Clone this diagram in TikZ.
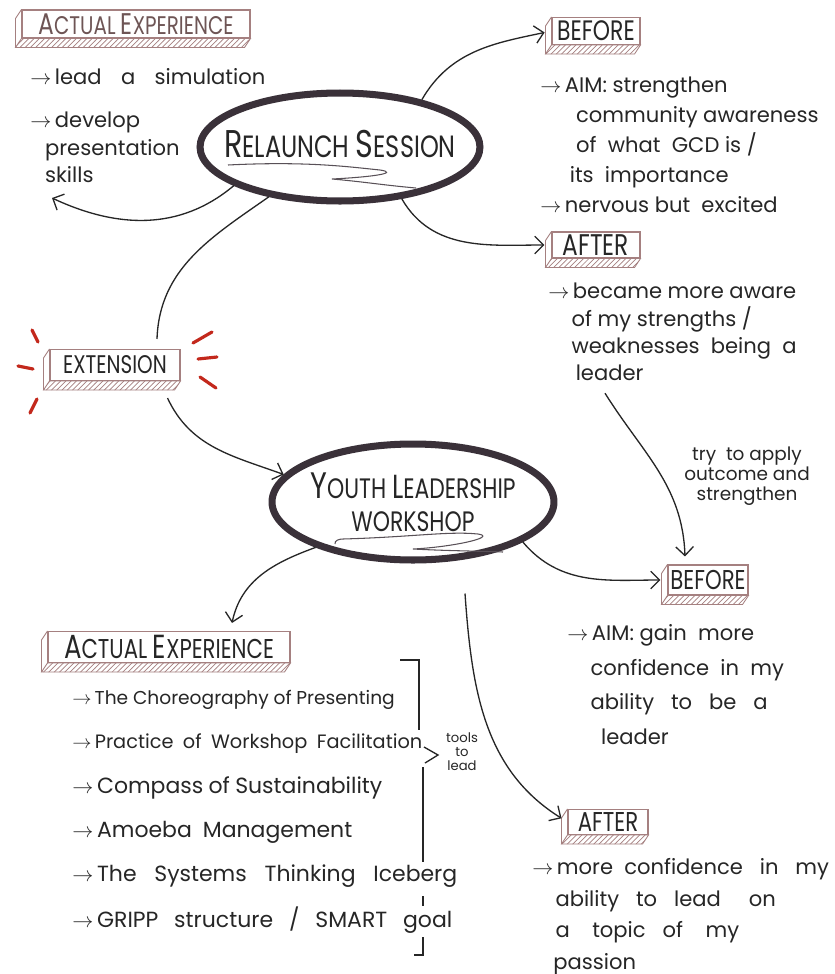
\documentclass[tikz,border=0pt]{standalone}
\usepackage{fontspec}
\setmainfont{Poppins}
\usetikzlibrary{shapes.geometric,arrows.meta,patterns,calc}

\definecolor{ink}{HTML}{262626}
\definecolor{fadeink}{HTML}{6E5555}
\definecolor{ringink}{HTML}{3A3139}
\definecolor{boxink}{HTML}{A58080}
\definecolor{burstred}{HTML}{C3281C}

\newcommand{\arr}{$\rightarrow$\,}
\newcommand{\capini}[2]{{\fontsize{#1}{#1}\selectfont #2}}
\newcommand{\narrow}[1]{\scalebox{0.78}[1]{#1}}

\begin{document}
\begin{tikzpicture}[
    x=0.02cm, y=-0.02cm,
    every node/.style={text=ink},
    note/.style={anchor=north west, align=left, inner sep=0pt,
                 font=\fontsize{12}{16.5}\selectfont},
    item/.style={anchor=west, inner sep=0pt},
    tagbox/.style={draw=boxink, line width=0.6pt, inner sep=0pt},
    ring/.style={ellipse, draw=ringink, line width=4pt, align=center,
                 inner xsep=-30pt, inner ysep=-10pt},
    link/.style={draw=ink, line width=0.75pt},
    arrowed/.style={-{Straight Barb[length=5pt,width=10pt]}},
    strip/.style={draw=boxink, line width=0.5pt, pattern=north east lines,
                  pattern color=boxink},
    swoosh/.style={draw=ringink!85, line width=0.6pt},
    burst/.style={draw=burstred, line width=1.8pt, line cap=round}]

  \path[use as bounding box, fill=white] (0,0) rectangle (835,974);

  % boxed headings
  \node[tagbox, minimum width=4.56cm, minimum height=0.56cm, text=fadeink,
        font=\fontsize{14.5}{14.5}\selectfont] (actexp) at (136,24)
        {\narrow{\capini{17}{A}CTUAL \capini{17}{E}XPERIENCE}};
  \node[tagbox, minimum width=1.76cm, minimum height=0.54cm,
        font=\fontsize{16}{16}\selectfont] (before1) at (596,31) {\narrow{BEFORE}};
  \node[tagbox, minimum width=1.76cm, minimum height=0.52cm,
        font=\fontsize{17}{17}\selectfont] (after1) at (596,245) {\narrow{AFTER}};
  \node[tagbox, minimum width=2.6cm, minimum height=0.62cm,
        font=\fontsize{14.5}{14.5}\selectfont] (extension) at (115,365) {\narrow{EXTENSION}};
  \node[tagbox, minimum width=1.6cm, minimum height=0.6cm,
        font=\fontsize{15.5}{15.5}\selectfont] (before2) at (708,580) {\narrow{BEFORE}};
  \node[tagbox, minimum width=1.6cm, minimum height=0.5cm,
        font=\fontsize{15.5}{15.5}\selectfont] (after2) at (608,822) {\narrow{AFTER}};
  \node[tagbox, minimum width=4.84cm, minimum height=0.62cm,
        font=\fontsize{15.5}{15.5}\selectfont] (workexp) at (169,647)
        {\narrow{\capini{19}{A}CTUAL \capini{19}{E}XPERIENCE}};

  \foreach \b in {actexp,before1,after1,extension,before2,after2,workexp} {
    \draw[strip] (\b.south west) -- (\b.south east) -- ++(-6,9)
      -- ($(\b.south west)+(-6,9)$) -- cycle;
    \draw[boxink, line width=0.5pt] (\b.north west) -- ++(-6,9)
      -- ($(\b.south west)+(-6,9)$);
  }

  % the two sessions
  \node[ring, minimum width=5.6cm, minimum height=2.16cm,
        font=\fontsize{17.5}{17.5}\selectfont] (relaunch) at (340,147)
        {\raisebox{4pt}{\narrow{\capini{22}{R}ELAUNCH \capini{22}{S}ESSION}}};
  \node[ring, minimum width=5.64cm, minimum height=2.32cm,
        font=\fontsize{16}{18.5}\selectfont] (youth) at (413,502)
        {\narrow{\capini{21}{Y}OUTH \capini{19}{L}EADERSHIP}\\
         \narrow{WORKSHOP}};

  \draw[swoosh] ($(relaunch.center)+(-112,18)$)
    .. controls +(80,-4) and +(-30,-3) .. ($(relaunch.center)+(40,23)$)
    .. controls +(20,3) and +(40,-2) .. ($(relaunch.center)+(-8,32)$)
    to[out=-5,in=175] ($(relaunch.center)+(76,41)$);
  \draw[swoosh] ($(youth.center)+(-78,42)$) to[out=100,in=180] ($(youth.center)+(-70,37)$)
    .. controls +(70,-2) and +(-30,-3) .. ($(youth.center)+(65,32)$)
    .. controls +(20,3) and +(40,-2) .. ($(youth.center)+(0,47)$)
    to[out=-3,in=178] ($(youth.center)+(90,50)$);

  % notes
  \node[item, font=\fontsize{12}{12}\selectfont] (lead) at (30,77)
    {\makebox[4.7cm][s]{\arr lead a simulation}};
  \node[note, font=\fontsize{12}{15.5}\selectfont] (develop) at (30,112)
    {\arr develop\\ \hspace*{0.7em}presentation\\ \hspace*{0.7em}skills};
  \node[note, font=\fontsize{12}{17}\selectfont] (aim1) at (540,77)
    {\arr AIM: strengthen\\
     \hspace*{1.7em}community awareness\\
     \hspace*{1.7em}of\ \ what\ \ GCD is /\\
     \hspace*{1.4em}its\ \ importance\\
     \arr nervous but\ \ excited};
  \node[note, font=\fontsize{12}{15.5}\selectfont] (outcome1) at (548,283)
    {\arr became more aware\\
     \hspace*{1.1em}of my strengths /\\
     \hspace*{1.1em}weaknesses\ \ being\ \ a\\
     \hspace*{1.3em}leader};
  \node[note, font=\fontsize{12}{19.8}\selectfont] (aim2) at (567,624)
    {\arr AIM: gain\ \ more\\
     \hspace*{1.1em}confidence\ \ in\ \ my\\
     \hspace*{1.1em}ability\ \ \ to\ \ \ be\ \ \ a\\
     \hspace*{1.6em}leader};
  \node[note, font=\fontsize{12}{18}\selectfont] (outcome2) at (532,858)
    {\arr more\ \ confidence\ \ \ in\ \ \ my\\
     \hspace*{1.1em}ability\ \ \ to\ \ \ lead\ \ \ \ \ on\\
     \hspace*{1.1em}a\ \ \ \ topic\ \ \ of\ \ \ \ my\\
     \hspace*{1em}passion};

  \foreach \s/\w/\t [count=\i] in {10.6/6.45/{The Choreography of Presenting},
      11/7.0/{Practice of Workshop Facilitation},
      12.5/6.2/{Compass of Sustainability},
      12.5/5.6/{Amoeba Management},
      12.5/7.7/{The Systems Thinking Iceberg},
      12.5/7.6/{GRIPP structure / SMART goal}}
    \node[item, font=\fontsize{\s}{\s}\selectfont] (tool\i) at (72,{656+44*\i})
      {\makebox[\w cm][s]{\arr \t}};

  \node[align=center, inner sep=0pt, font=\fontsize{7.5}{8}\selectfont]
    (toolsnote) at (462,752) {tools\\to\\lead};
  \node[align=center, inner sep=0pt, font=\fontsize{10.5}{11.5}\selectfont]
    (applynote) at (747,476) {try\ \ to\ apply\\outcome\ and\\strengthen};

  % bracket round the tools
  \draw[link] (400,660) -- (419,660) -- (419,730);
  \draw[link] (424,747) -- (438,755) -- (425,763);
  \draw[link] (423,767) -- (423,862);
  \draw[link] (423,896) -- (423,906);
  \draw[link] (423,937) -- (423,955) -- (414,955);

  % burst round the extension
  \draw[burst] (32,330) -- (38,342);
  \draw[burst] (18,366) -- (33,369);
  \draw[burst] (30,413) -- (37,399);
  \draw[burst] (193,343) -- (212,332);
  \draw[burst] (198,359) -- (217,357);
  \draw[burst] (200,377) -- (216,388);

  % connectors
  \coordinate (devend) at (52,198);
  \draw[link, arrowed] (relaunch.200) to[out=220, in=-25] (devend);
  \draw[link, arrowed, shorten >=4pt] (relaunch.30) to[out=60, in=192] (before1.west);
  \draw[link, arrowed, shorten >=4pt] (relaunch.-40) to[out=-60, in=180] (after1.west);
  \draw[link] (relaunch.215) to[out=215, in=88] ($(extension.north)+(42,-10)$);
  \draw[link, arrowed] ($(extension.south east)+(-13,17)$) to[out=-65, in=160] (youth.168);
  \draw[link, arrowed] (youth.205) to[out=200, in=78] ($(workexp.north)+(63,-8)$);
  \draw[link, arrowed, shorten >=4pt] (youth.-20) to[out=-50, in=180] (before2.west);
  \draw[link, arrowed, shorten >=4pt] ($(youth.south)+(52,30)$) to[out=-86, in=148] (after2.west);
  \draw[link, arrowed] ($(outcome1.south west)+(57,12)$) to[out=-58, in=92]
    ($(before2.north)+(-23,-8)$);
\end{tikzpicture}
\end{document}
